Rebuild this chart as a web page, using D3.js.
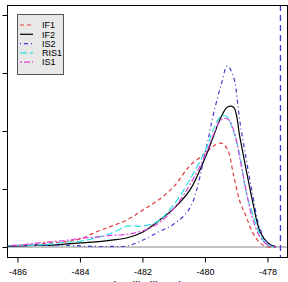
<!DOCTYPE html>
<html>
<head>
<meta charset="utf-8">
<script src="https://cdn.jsdelivr.net/npm/d3@7"></script>
<style>
  body { margin: 0; background: #fff; }
  svg { display: block; font-family: "Liberation Sans", Arial, sans-serif; }
</style>
</head>
<body>
<div id="chart"></div>
<script>
// log-likelihood grid shared by all density curves
const grid = [-486.35, -486, -485.5, -485, -484.5, -484, -483.5, -483, -482.5, -482,
  -481.5, -481, -480.5, -480, -479.75, -479.5, -479.3, -479.1, -478.9, -478.7,
  -478.5, -478.25, -478, -477.75];

const IF1 = [0.002, 0.003, 0.004, 0.007, 0.009, 0.014, 0.026, 0.036, 0.047, 0.064,
  0.081, 0.105, 0.140, 0.162, 0.174, 0.179, 0.169, 0.124, 0.079, 0.053,
  0.026, 0.007, 0.000, 0.000];
const IF2 = [0.001, 0.002, 0.003, 0.003, 0.005, 0.007, 0.009, 0.012, 0.016, 0.026,
  0.045, 0.067, 0.098, 0.155, 0.190, 0.224, 0.241, 0.241, 0.190, 0.134,
  0.081, 0.026, 0.007, 0.000];
const IS2 = [0.002, 0.002, 0.003, 0.003, 0.003, 0.002, 0.001, 0.001, 0.002, 0.012,
  0.026, 0.040, 0.067, 0.164, 0.228, 0.279, 0.312, 0.293, 0.217, 0.153,
  0.093, 0.031, 0.007, 0.001];
const RIS1 = [0.002, 0.003, 0.003, 0.005, 0.008, 0.010, 0.016, 0.024, 0.036, 0.036,
  0.045, 0.074, 0.116, 0.167, 0.202, 0.226, 0.224, 0.198, 0.159, 0.095,
  0.059, 0.021, 0.003, 0.000];
const IS1 = [0.003, 0.003, 0.006, 0.009, 0.011, 0.015, 0.017, 0.020, 0.022, 0.028,
  0.041, 0.067, 0.107, 0.159, 0.193, 0.219, 0.221, 0.202, 0.153, 0.098,
  0.050, 0.017, 0.003, 0.000];

const seriesNames = ["IF1", "IF2", "IS2", "RIS1", "IS1"];
const xTicks = [-486, -484, -482, -480, -478];
const yTicks = [0, 0.1, 0.2, 0.3, 0.4];
const maxLogLik = -477.6;

const W = 288, H = 282;
const box = { left: 7, right: 287, top: 5, bottom: 257 };

const svg = d3.select("#chart").append("svg")
  .attr("width", W)
  .attr("height", H);

const x = d3.scaleLinear().domain([-486.35, -477.39]).range([box.left, box.right]);
const y = d3.scaleLinear().domain([-0.0172, 0.4172]).range([box.bottom, box.top]);

const styles = {
  IF1:  { color: "#e23b3b", dash: "4,3" },
  IF2:  { color: "#000000", dash: null },
  IS2:  { color: "#3b3bcc", dash: "1,3,4,3" },
  RIS1: { color: "#2fe0e0", dash: "7,3" },
  IS1:  { color: "#dd44dd", dash: "2,2,6,2" }
};
const values = { IF1, IF2, IS2, RIS1, IS1 };

svg.append("clipPath").attr("id", "plotclip")
  .append("rect")
  .attr("x", box.left).attr("y", box.top)
  .attr("width", box.right - box.left).attr("height", box.bottom - box.top);

const plot = svg.append("g").attr("clip-path", "url(#plotclip)");

// zero line
plot.append("line")
  .attr("x1", box.left).attr("x2", box.right)
  .attr("y1", y(0)).attr("y2", y(0))
  .attr("stroke", "#888").attr("stroke-width", 1);

const line = d3.line()
  .x((d, i) => x(grid[i]))
  .y(d => y(d))
  .curve(d3.curveCatmullRom.alpha(0.5));

seriesNames.forEach(name => {
  plot.append("path")
    .datum(values[name])
    .attr("fill", "none")
    .attr("stroke", styles[name].color)
    .attr("stroke-width", 1.2)
    .attr("stroke-dasharray", styles[name].dash)
    .attr("d", line);
});

// maximum log-likelihood
plot.append("line")
  .attr("x1", x(maxLogLik)).attr("x2", x(maxLogLik))
  .attr("y1", box.top).attr("y2", box.bottom)
  .attr("stroke", "#3b3bcc")
  .attr("stroke-width", 1.3)
  .attr("stroke-dasharray", "6,4");

// box
svg.append("rect")
  .attr("x", box.left + 0.5).attr("y", box.top + 0.5)
  .attr("width", box.right - box.left).attr("height", box.bottom - box.top)
  .attr("fill", "none").attr("stroke", "#000").attr("stroke-width", 1);

// x axis ticks
const xAxis = svg.append("g");
xTicks.forEach(t => {
  xAxis.append("line")
    .attr("x1", x(t)).attr("x2", x(t))
    .attr("y1", box.bottom + 0.5).attr("y2", box.bottom + 5.5)
    .attr("stroke", "#000");
  xAxis.append("text")
    .attr("x", x(t)).attr("y", 275)
    .attr("text-anchor", "middle")
    .attr("font-size", "9px")
    .text(t);
});

// y axis ticks (labels fall outside the window)
yTicks.forEach(t => {
  svg.append("line")
    .attr("x1", box.left + 0.5).attr("x2", box.left - 4.5)
    .attr("y1", Math.round(y(t)) + 0.5).attr("y2", Math.round(y(t)) + 0.5)
    .attr("stroke", "#000");
});

// x axis title, cut by the bottom edge as in the original
svg.append("text")
  .attr("x", (box.left + box.right) / 2)
  .attr("y", 289)
  .attr("text-anchor", "middle")
  .attr("font-size", "11.5px")
  .text("log-likelihood");

// legend
const legend = svg.append("g").attr("transform", "translate(17,14)");
legend.append("rect")
  .attr("x", 0.5).attr("y", 0.5)
  .attr("width", 46).attr("height", 60)
  .attr("fill", "#e8e8e8").attr("stroke", "#555");

seriesNames.forEach((name, i) => {
  const ly = 11 + i * 9.3;
  legend.append("line")
    .attr("x1", 3).attr("x2", 16)
    .attr("y1", ly).attr("y2", ly)
    .attr("stroke", styles[name].color)
    .attr("stroke-width", 1.2)
    .attr("stroke-dasharray", styles[name].dash);
  legend.append("text")
    .attr("x", 25).attr("y", ly + 3.2)
    .attr("font-size", "9px")
    .text(name);
});
</script>
</body>
</html>
